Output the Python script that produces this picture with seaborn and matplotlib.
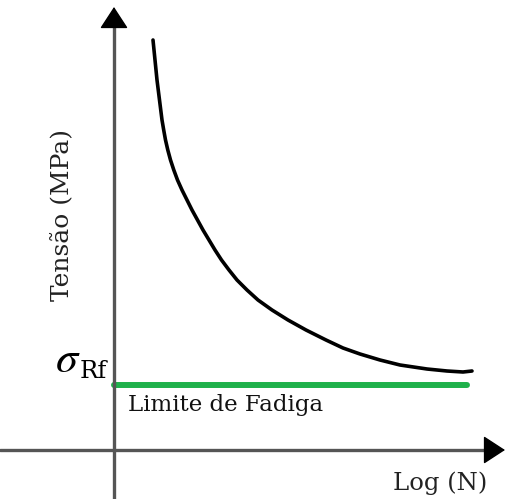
import matplotlib
matplotlib.use("Agg")
import matplotlib.pyplot as plt
import seaborn as sns
import pandas as pd

# S-N curve (arbitrary units, origin at the axes crossing)
log_n = [39, 41, 43, 45.5, 48, 49.7, 51.5, 53.8, 56.5, 59.8, 63.5, 68, 73, 78,
         83.5, 89, 95, 101, 107.5, 115, 123, 133, 144, 158, 174, 192, 212, 229,
         246, 266, 286, 313, 333, 349, 358]
tensao = [410, 390, 370, 350, 330, 320, 310, 300, 290, 280, 270, 260, 250, 240,
          230, 220, 210, 200, 190, 180, 170, 160, 150, 140, 130, 120, 110, 102,
          96, 90, 85, 81, 79, 78, 79]

# Fatigue limit
limite_x = [0, 353]
limite_y = [65, 65]

sns.set_theme(style="white")
plt.rcParams["font.family"] = ["DejaVu Serif"]

fig = plt.figure(figsize=(5.06, 4.99), dpi=100)
ax = fig.add_axes([0, 0, 1, 1])
ax.set_xlim(-114, 392)
ax.set_ylim(-49, 450)
ax.axis("off")

curva = pd.DataFrame({"log_n": log_n, "tensao": tensao})
sns.lineplot(data=curva, x="log_n", y="tensao", color="black", lw=2.6, ax=ax,
             sort=False, estimator=None,
             solid_capstyle="round", solid_joinstyle="round")
sns.lineplot(x=limite_x, y=limite_y, color="#1fb14b", lw=4.3, ax=ax,
             sort=False, estimator=None)

# axes with arrowheads
axis_color = "#555555"
ax.plot([0, 0], [-49, 432], color=axis_color, lw=2.4)
ax.plot([-114, 380], [0, 0], color=axis_color, lw=2.4)
head = "-|>,head_width=0.75,head_length=1.15"
ax.annotate("", xy=(0, 443), xytext=(0, 425),
            arrowprops=dict(arrowstyle=head, color="black", lw=1,
                            shrinkA=0, shrinkB=0))
ax.annotate("", xy=(391, 0), xytext=(373, 0),
            arrowprops=dict(arrowstyle=head, color="black", lw=1,
                            shrinkA=0, shrinkB=0))

ax.text(-51, 235, "Tensão (MPa)", rotation=90, ha="center", va="center",
        fontsize=18, color="#222222")
ax.text(14, 45, "Limite de Fadiga", ha="left", va="center", fontsize=16.5,
        color="#111111")
ax.text(326, -33, "Log (N)", ha="center", va="center", fontsize=17.5,
        color="#222222")
ax.text(-46, 91, r"$\sigma$", ha="center", va="center", fontsize=32,
        color="black", math_fontfamily="stix")
ax.text(-21, 79, "Rf", ha="center", va="center", fontsize=17.5, color="black")

fig.savefig("out.png", dpi=100)
